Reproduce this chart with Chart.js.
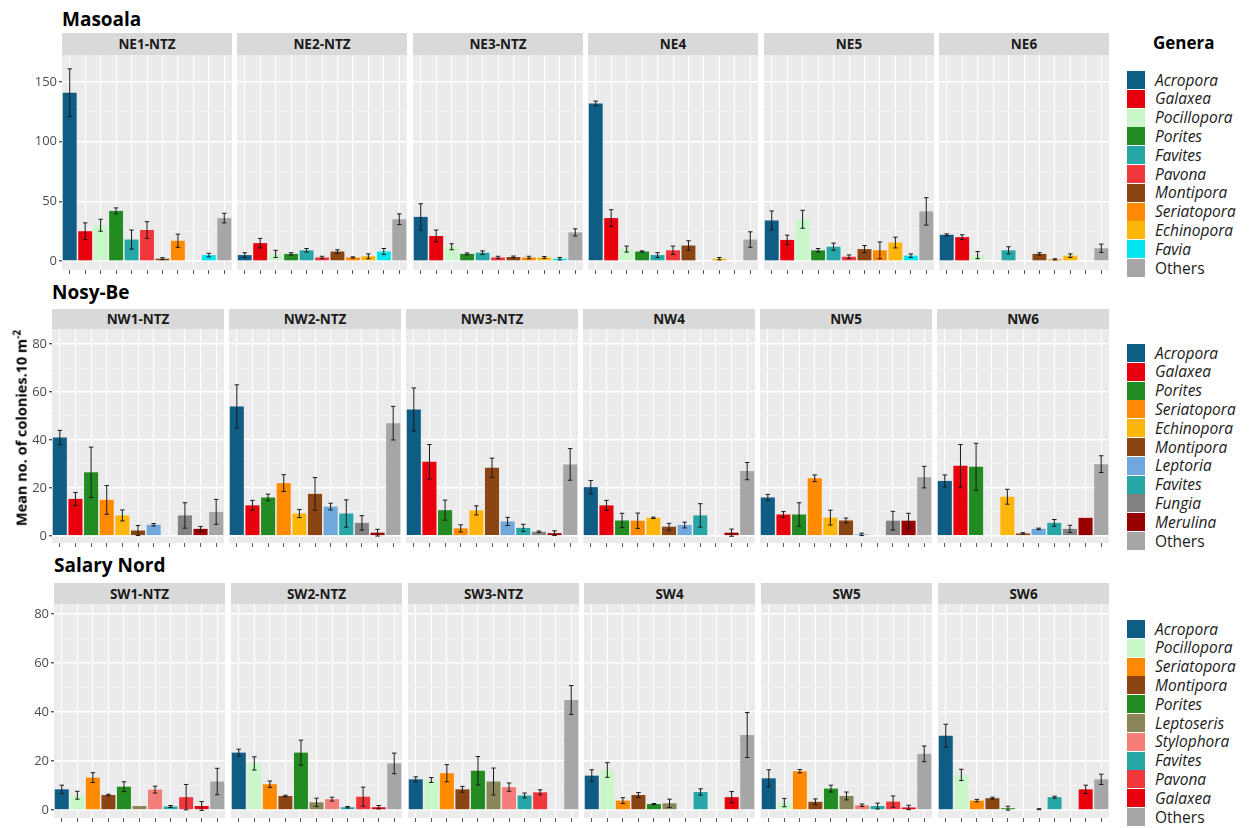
<!DOCTYPE html>
<html>
<head>
<meta charset="utf-8">
<script src="https://cdn.jsdelivr.net/npm/chart.js@4.4.1/dist/chart.umd.min.js"></script>
<style>
  body{margin:0;background:#fff;width:1249px;height:828px;position:relative;overflow:hidden;font-family:"Open Sans",sans-serif;}
  .rowtitle{position:absolute;font-weight:bold;font-size:19px;line-height:19px;color:#000;}
  .strip{position:absolute;background:#d9d9d9;font-weight:bold;font-size:13.5px;color:#1a1a1a;display:flex;align-items:center;justify-content:center;}
  .ytitle{position:absolute;font-weight:bold;font-size:14.5px;color:#000;white-space:nowrap;transform:translate(-50%,-50%) rotate(-90deg);}
  .legtitle{position:absolute;font-weight:bold;font-size:17px;color:#000;}
  .key{position:absolute;width:18px;height:18px;}
  .keylab{position:absolute;font-size:15.5px;line-height:18px;color:#1a1a1a;font-style:italic;white-space:nowrap;}
  canvas{position:absolute;}
</style>
</head>
<body>
<script>
// genus colours
const colors = {
  Acropora:'#0f5d85', Galaxea:'#e8000d', Pocillopora:'#c9f7c9', Porites:'#228b22',
  Favites:'#26a6a6', Pavona:'#f2373c', Montipora:'#8b4513', Seriatopora:'#ff8a00',
  Echinopora:'#ffb60a', Favia:'#00e6f0', Others:'#a6a6a6', Leptoria:'#6fa8dc',
  Fungia:'#838383', Merulina:'#980000', Leptoseris:'#8a8659', Stylophora:'#f37e79'
};

// ---- Masoala ----
const genera1 = ['Acropora','Galaxea','Pocillopora','Porites','Favites','Pavona','Montipora','Seriatopora','Echinopora','Favia','Others'];
const sites1 = ['NE1-NTZ','NE2-NTZ','NE3-NTZ','NE4','NE5','NE6'];
const ne1 = [141, 25, 30, 42, 18, 26, 2, 17, 0, 5, 36];
const ne1Se = [20, 7, 5, 2.5, 8, 7, 0.8, 5.5, 0, 1.5, 4];
const ne2 = [5, 15, 6, 6, 9, 3, 8, 3, 4, 8, 35];
const ne2Se = [2, 4, 3, 1, 1.5, 1, 1.5, 0.5, 2, 2.5, 4.5];
const ne3 = [37, 21, 12, 6, 7, 3, 3.4, 3, 3, 2, 24];
const ne3Se = [11, 5, 2.5, 0.8, 1.5, 1, 0.8, 1, 0.8, 1, 3];
const ne4 = [132, 36, 10, 8, 5, 9, 13, 0, 2, 0, 18];
const ne4Se = [2, 7, 2.5, 0.5, 2, 3.5, 4, 0, 1, 0, 6.5];
const ne5 = [34, 17.7, 35, 9, 12, 3.6, 10, 9, 15.5, 4.5, 41.6];
const ne5Se = [8, 4, 7.5, 1.5, 3, 1.5, 3, 7, 4.5, 1.5, 11.5];
const ne6 = [22, 20, 5, 0, 9, 0, 6, 1.4, 4.5, 0, 10.7];
const ne6Se = [0.8, 2, 3, 0, 3, 0, 1, 0.5, 1.5, 0, 3.5];
const ticks1 = [0, 50, 100, 150];
const minor1 = [25, 75, 125];

// ---- Nosy-Be ----
const genera2 = ['Acropora','Galaxea','Porites','Seriatopora','Echinopora','Montipora','Leptoria','Favites','Fungia','Merulina','Others'];
const sites2 = ['NW1-NTZ','NW2-NTZ','NW3-NTZ','NW4','NW5','NW6'];
const nw1 = [41, 15.4, 26.5, 15, 8.5, 2.2, 4.6, 0, 8.5, 2.9, 10];
const nw1Se = [3, 2.7, 10.5, 6, 2.3, 2.1, 0.5, 0, 5.3, 1, 5.2];
const nw2 = [54, 12.7, 16, 22, 9.3, 17.5, 12.2, 9.3, 5.4, 1.3, 47];
const nw2Se = [9, 2.1, 1.4, 3.5, 1.7, 6.8, 1.4, 5.7, 3, 1.4, 7];
const nw3 = [52.7, 30.9, 10.7, 3.1, 10.6, 28.4, 6, 3.3, 1.7, 1.1, 29.8];
const nw3Se = [9, 7.2, 4.2, 1.5, 1.9, 4, 1.7, 1.5, 0.3, 1, 6.6];
const nw4 = [20.3, 12.7, 6.4, 6.3, 7.5, 3.8, 4.5, 8.5, 0, 1.3, 27];
const nw4Se = [2.8, 2.1, 3, 3.2, 0.3, 1.4, 1.2, 4.9, 0, 1.5, 3.6];
const nw5 = [16, 8.9, 8.9, 24, 7.6, 6.4, 0.6, 0, 6.3, 6.3, 24.5];
const nw5Se = [1.3, 1.2, 4.9, 1.4, 3.1, 1, 0.5, 0, 3.9, 3.1, 4.5];
const nw6 = [22.9, 29.2, 28.8, 0, 16.3, 1, 2.9, 5.4, 2.9, 7.5, 29.9];
const nw6Se = [2.5, 8.9, 9.8, 0, 3.1, 0.3, 0.3, 1.4, 1.5, 0, 3.5];
const ticks2 = [0, 20, 40, 60, 80];
const minor2 = [10, 30, 50, 70];

// ---- Salary Nord ----
const genera3 = ['Acropora','Pocillopora','Seriatopora','Montipora','Porites','Leptoseris','Stylophora','Favites','Pavona','Galaxea','Others'];
const sites3 = ['SW1-NTZ','SW2-NTZ','SW3-NTZ','SW4','SW5','SW6'];
const sw1 = [8.4, 6, 13.2, 6.1, 9.5, 1.6, 8.3, 1.4, 5.2, 1.6, 11.6];
const sw1Se = [1.7, 1.6, 2, 0.3, 2, 0, 1.4, 0.4, 5.2, 1.8, 5.4];
const sw2 = [23.4, 19, 10.5, 5.7, 23.4, 3.1, 4.4, 1.1, 5.4, 1.1, 19];
const sw2Se = [1.4, 2.7, 1.3, 0.3, 5.1, 1.7, 0.8, 0.3, 3.9, 0.7, 4.2];
const sw3 = [12.5, 12.2, 15, 8.4, 16, 11.6, 9.3, 5.9, 7.2, 0, 44.9];
const sw3Se = [1, 1, 3.5, 1.2, 5.8, 5.5, 1.7, 1, 1, 0, 5.9];
const sw4 = [14, 16.3, 3.8, 6.1, 2.4, 2.7, 0, 7.3, 0, 5.2, 30.6];
const sw4Se = [2.4, 3, 1.2, 1, 0.2, 1.7, 0, 1.3, 0, 2.3, 9.2];
const sw5 = [12.9, 3, 15.8, 3.3, 8.7, 5.7, 1.9, 1.6, 3.4, 1, 22.9];
const sw5Se = [3.5, 1.7, 0.7, 1.2, 1.4, 1.6, 0.5, 1.2, 2.3, 0.9, 3.2];
const sw6 = [30.3, 14.3, 3.8, 4.8, 0.7, 0, 0.3, 5.2, 0, 8.4, 12.5];
const sw6Se = [4.7, 2.3, 0.5, 0.4, 0.8, 0, 0.2, 0.4, 0, 1.7, 2.1];
const ticks3 = [0, 20, 40, 60, 80];
const minor3 = [10, 30, 50, 70];

const rows = [
  {title:'Masoala', genera:genera1, sites:sites1, means:[ne1,ne2,ne3,ne4,ne5,ne6], se:[ne1Se,ne2Se,ne3Se,ne4Se,ne5Se,ne6Se],
   major:ticks1, minor:minor1, yMin:-7.5, yMax:172.6, titleTop:10, stripTop:33, top:55, bottom:270, left:62, legendTop:71},
  {title:'Nosy-Be', genera:genera2, sites:sites2, means:[nw1,nw2,nw3,nw4,nw5,nw6], se:[nw1Se,nw2Se,nw3Se,nw4Se,nw5Se,nw6Se],
   major:ticks2, minor:minor2, yMin:-3.0, yMax:86.3, titleTop:283, stripTop:309, top:329, bottom:543, left:52, legendTop:344},
  {title:'Salary Nord', genera:genera3, sites:sites3, means:[sw1,sw2,sw3,sw4,sw5,sw6], se:[sw1Se,sw2Se,sw3Se,sw4Se,sw5Se,sw6Se],
   major:ticks3, minor:minor3, yMin:-3.3, yMax:84.1, titleTop:556, stripTop:583, top:604, bottom:818, left:54, legendTop:620}
];
const panelRight = 1109, panelGap = 5.5, axisPad = 42;

const panelBg = {
  id:'panelBg',
  beforeDraw(chart){
    const a = chart.chartArea, ctx = chart.ctx;
    ctx.save(); ctx.fillStyle = '#ebebeb';
    ctx.fillRect(a.left, a.top, a.right - a.left, a.bottom - a.top);
    ctx.restore();
  }
};

const errorBars = {
  id:'errorBars',
  afterDatasetsDraw(chart){
    const ctx = chart.ctx, y = chart.scales.y;
    const ds = chart.data.datasets[0], meta = chart.getDatasetMeta(0);
    ctx.save();
    ctx.strokeStyle = '#1a1a1a'; ctx.lineWidth = 1;
    meta.data.forEach((bar, i) => {
      const m = ds.data[i], e = ds.se[i];
      if(!e) return;
      const yHi = y.getPixelForValue(m + e), yLo = y.getPixelForValue(m - e);
      const cw = bar.width * 0.16;
      ctx.beginPath();
      ctx.moveTo(bar.x, yLo); ctx.lineTo(bar.x, yHi);
      ctx.moveTo(bar.x - cw, yHi); ctx.lineTo(bar.x + cw, yHi);
      ctx.moveTo(bar.x - cw, yLo); ctx.lineTo(bar.x + cw, yLo);
      ctx.stroke();
    });
    ctx.restore();
  }
};

function addDiv(cls, html, css){
  const d = document.createElement('div');
  d.className = cls; d.innerHTML = html; d.style.cssText = css;
  document.body.appendChild(d);
  return d;
}

function makePanel(row, i, x, pw){
  const first = i === 0;
  const pad = first ? axisPad : 0;
  const w = Math.round(pw + pad), h = row.bottom - row.top + 6;
  const cv = document.createElement('canvas');
  cv.width = w; cv.height = h;
  cv.style.cssText = `left:${Math.round(x - pad)}px;top:${row.top}px;width:${w}px;height:${h}px`;
  document.body.appendChild(cv);
  const gridVals = row.major.concat(row.minor);
  const isMajor = v => row.major.includes(v);

  new Chart(cv, {
    type:'bar',
    data:{
      labels: row.genera,
      datasets:[{
        data: row.means[i], se: row.se[i],
        backgroundColor: row.genera.map(g => colors[g]),
        borderWidth:0, categoryPercentage:1, barPercentage:0.9
      }]
    },
    options:{
      responsive:false, animation:false, events:[],
      layout:{padding:0},
      plugins:{legend:{display:false}, tooltip:{enabled:false}},
      scales:{
        x:{
          offset:true,
          grid:{offset:false, color:'#ffffff', lineWidth:1, drawTicks:true, tickLength:4, tickColor:'#555'},
          ticks:{display:false},
          border:{display:false},
          afterFit: s => { s.height = 6; s.paddingLeft = 0; s.paddingRight = 0; }
        },
        y:{
          min: row.yMin, max: row.yMax,
          afterBuildTicks: s => { s.ticks = gridVals.map(v => ({value:v})); },
          ticks:{
            display:first, color:'#4d4d4d', padding:2,
            font:{size:13, family:'Open Sans'},
            callback: v => isMajor(v) ? String(v) : ''
          },
          grid:{
            color: c => isMajor(c.tick.value) ? '#ffffff' : '#f6f6f6',
            lineWidth: c => isMajor(c.tick.value) ? 1.4 : 0.7,
            tickLength:3,
            tickColor: c => isMajor(c.tick.value) ? '#555' : 'rgba(0,0,0,0)'
          },
          border:{display:false},
          afterFit: s => { s.width = pad; s.paddingTop = 0; s.paddingBottom = 0; }
        }
      }
    },
    plugins:[panelBg, errorBars]
  });
}

rows.forEach((row, r) => {
  const step = (panelRight - row.left + panelGap) / 6;
  const pw = step - panelGap;
  addDiv('rowtitle', row.title, `left:${row.left}px;top:${row.titleTop}px`);
  row.sites.forEach((site, i) => {
    const x = row.left + i * step;
    addDiv('strip', site, `left:${Math.round(x)}px;top:${row.stripTop}px;width:${Math.round(pw)}px;height:${row.top - row.stripTop}px`);
    makePanel(row, i, x, pw);
  });
  // legend
  if(r === 0) addDiv('legtitle', 'Genera', 'left:1153px;top:31px');
  row.genera.forEach((g, k) => {
    const y = row.legendTop + k * 18.8;
    addDiv('key', '', `left:1127px;top:${y.toFixed(1)}px;background:${colors[g]}`);
    addDiv('keylab', g, `left:1155px;top:${(y - 0.5).toFixed(1)}px;${g === 'Others' ? 'font-style:normal;' : ''}`);
  });
});

addDiv('ytitle', 'Mean no. of colonies.10 m<sup style="font-size:10px">-2</sup>', 'left:20px;top:428px');
</script>
</body>
</html>
